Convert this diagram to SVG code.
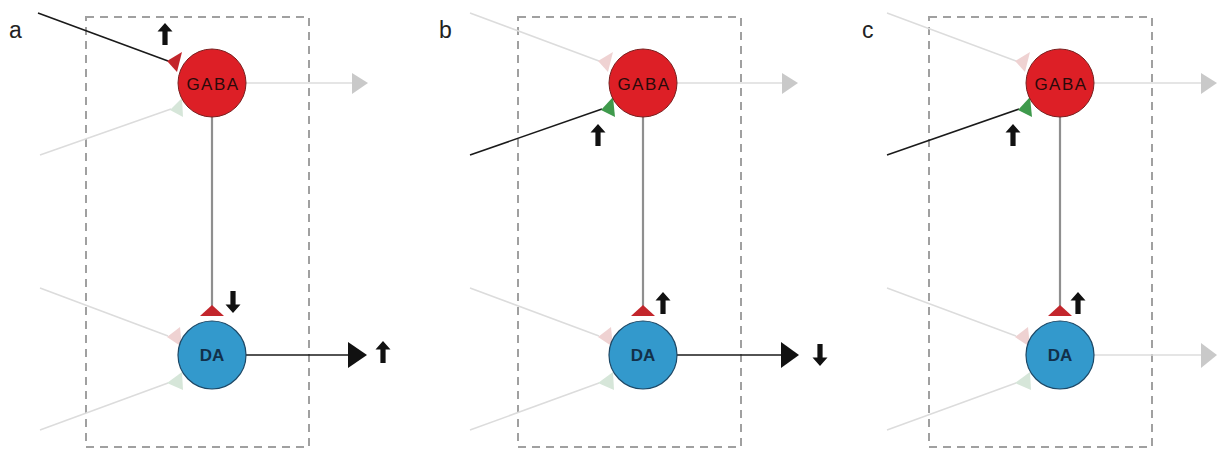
<svg xmlns="http://www.w3.org/2000/svg" width="1219" height="451" viewBox="0 0 1219 451">
<style>
.box{fill:none;stroke:#a0a0a0;stroke-width:2;stroke-dasharray:8 6}
.gaba{fill:#dd1f26;stroke:#7a1f1f;stroke-width:1}
.da{fill:#3399cc;stroke:#1d4866;stroke-width:1.2}
.gt{font-family:"Liberation Sans",Arial,sans-serif;font-size:17px;letter-spacing:1.5px;fill:#2a0a0a;text-anchor:middle}
.dt{font-family:"Liberation Sans",Arial,sans-serif;font-size:17px;font-weight:bold;fill:#12304a;text-anchor:middle}
.lbl{font-family:"Liberation Sans",Arial,sans-serif;font-size:23px;fill:#222}
.pale{stroke:#dcdcdc;stroke-width:1.5;fill:none}
.blk{stroke:#1a1a1a;stroke-width:1.6;fill:none}
.stem{stroke:#8f8f8f;stroke-width:2.2;fill:none}
.tri-pink{fill:#efd2d2}
.tri-pg{fill:#d6e6d9}
.tri-red{fill:#c3262c}
.tri-green{fill:#3f9a4c}
.ah-gray{fill:#c9c9c9}
.ah-blk{fill:#111}
.ind{fill:#111}
</style>
<defs>
<path id="up" d="M0,-11 L7.5,-2.5 L2.6,-2.5 L2.6,11 L-2.6,11 L-2.6,-2.5 L-7.5,-2.5 Z"/>
</defs>

<g id="boxes">
<rect class="box" x="86" y="17" width="223" height="430"/>
<rect class="box" x="518" y="17" width="223" height="430"/>
<rect class="box" x="929" y="17" width="223" height="430"/>
</g>

<g id="labels">
<text class="lbl" x="9" y="38">a</text>
<text class="lbl" x="439" y="38">b</text>
<text class="lbl" x="862" y="38">c</text>
</g>

<g id="connectors">
<!-- panel a -->
<line class="blk" x1="38" y1="13" x2="168" y2="61"/>
<line class="pale" x1="40" y1="155" x2="171" y2="109"/>
<line class="pale" x1="246" y1="83" x2="352" y2="83"/>
<polygon class="ah-gray" points="352,73 368,83 352,94"/>
<line class="stem" x1="212" y1="117" x2="212" y2="307"/>
<line class="pale" x1="40" y1="288" x2="168" y2="336"/>
<line class="pale" x1="40" y1="430" x2="168" y2="383"/>
<line class="blk" x1="246" y1="355" x2="350" y2="355"/>
<polygon class="ah-blk" points="348,342 367,355 348,368"/>
<!-- panel b -->
<line class="pale" x1="470" y1="13" x2="599" y2="61"/>
<line class="blk" x1="470" y1="155" x2="602" y2="109"/>
<line class="pale" x1="677" y1="83" x2="783" y2="83"/>
<polygon class="ah-gray" points="782,73 798,83 782,94"/>
<line class="stem" x1="643" y1="117" x2="643" y2="307"/>
<line class="pale" x1="470" y1="288" x2="599" y2="336"/>
<line class="pale" x1="470" y1="430" x2="599" y2="383"/>
<line class="blk" x1="677" y1="355" x2="783" y2="355"/>
<polygon class="ah-blk" points="781,342 799,355 781,368"/>
<!-- panel c -->
<line class="pale" x1="887" y1="13" x2="1016" y2="61"/>
<line class="blk" x1="887" y1="155" x2="1019" y2="109"/>
<line class="pale" x1="1094" y1="83" x2="1202" y2="83"/>
<polygon class="ah-gray" points="1201,73 1217,83 1201,94"/>
<line class="stem" x1="1060" y1="117" x2="1060" y2="307"/>
<line class="pale" x1="887" y1="288" x2="1016" y2="336"/>
<line class="pale" x1="887" y1="430" x2="1016" y2="383"/>
<line class="pale" x1="1094" y1="355" x2="1202" y2="355"/>
<polygon class="ah-gray" points="1201,343 1217,355 1201,368"/>
</g>

<g id="synapses">
<!-- panel a -->
<polygon class="tri-red" points="167,61 182,52 177,72"/>
<polygon class="tri-pg" points="170,110 182,98 183,117"/>
<polygon class="tri-pink" points="167,337 180,327 182,347"/>
<polygon class="tri-pg" points="167,383 182,372 183,390"/>
<polygon class="tri-red" points="212,305 224,316 200,316"/>
<!-- panel b -->
<polygon class="tri-pink" points="598,61 613,52 608,72"/>
<polygon class="tri-green" points="601,110 613,97 615,117"/>
<polygon class="tri-pink" points="598,337 611,327 613,347"/>
<polygon class="tri-pg" points="598,383 613,372 614,390"/>
<polygon class="tri-red" points="643,305 655,316 631,316"/>
<!-- panel c -->
<polygon class="tri-pink" points="1015,61 1030,52 1025,72"/>
<polygon class="tri-green" points="1018,110 1030,97 1032,117"/>
<polygon class="tri-pink" points="1015,337 1028,327 1030,347"/>
<polygon class="tri-pg" points="1015,383 1030,372 1031,390"/>
<polygon class="tri-red" points="1060,305 1072,316 1048,316"/>
</g>

<g id="gaba-a"><circle class="gaba" cx="212" cy="83" r="34"/><text class="gt" x="213" y="90">GABA</text></g>
<g id="da-a"><circle class="da" cx="212" cy="355" r="34"/><text class="dt" x="212" y="361">DA</text></g>
<g id="gaba-b"><circle class="gaba" cx="643" cy="83" r="34"/><text class="gt" x="644" y="90">GABA</text></g>
<g id="da-b"><circle class="da" cx="643" cy="355" r="34"/><text class="dt" x="643" y="361">DA</text></g>
<g id="gaba-c"><circle class="gaba" cx="1060" cy="83" r="34"/><text class="gt" x="1061" y="90">GABA</text></g>
<g id="da-c"><circle class="da" cx="1060" cy="355" r="34"/><text class="dt" x="1060" y="361">DA</text></g>

<g id="indicators" class="ind">
<use href="#up" transform="translate(165,34)"/>
<use href="#up" transform="translate(233,302) rotate(180)"/>
<use href="#up" transform="translate(383,352)"/>
<use href="#up" transform="translate(598,135)"/>
<use href="#up" transform="translate(663,303)"/>
<use href="#up" transform="translate(820,355) rotate(180)"/>
<use href="#up" transform="translate(1013,135)"/>
<use href="#up" transform="translate(1078,303)"/>
</g>
</svg>
